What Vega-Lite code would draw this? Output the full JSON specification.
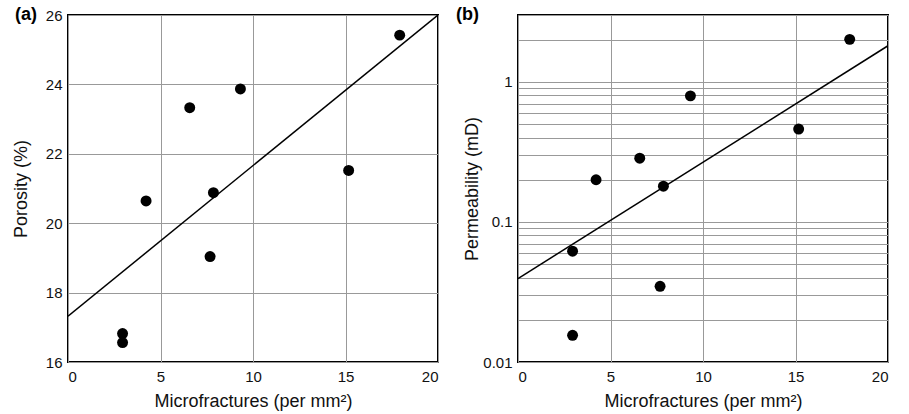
{
  "$schema": "https://vega.github.io/schema/vega-lite/v6.json",
  "padding": {"left": 11, "top": 5, "right": 5, "bottom": 5},
  "background": "white",
  "bounds": "flush",
  "spacing": 80,
  "config": {
    "font": "Liberation Sans",
    "view": {"stroke": "black", "strokeWidth": 2},
    "axis": {
      "labelFont": "Liberation Sans",
      "titleFont": "Liberation Sans",
      "labelFontSize": 15,
      "titleFontSize": 18,
      "titleFontWeight": "normal",
      "labelColor": "#111",
      "titleColor": "#111",
      "ticks": false,
      "domain": false,
      "gridColor": "#999",
      "gridOpacity": 1,
      "gridWidth": 1
    },
    "title": {
      "font": "Liberation Sans",
      "fontSize": 18,
      "fontWeight": "bold",
      "color": "black",
      "anchor": "start",
      "frame": "group",
      "baseline": "alphabetic"
    }
  },
  "datasets": {
    "pts": [
      {"mf": 2.95, "por": 16.82, "perm": 0.0618},
      {"mf": 2.95, "por": 16.56, "perm": 0.0155},
      {"mf": 4.22, "por": 20.64, "perm": 0.2},
      {"mf": 6.58, "por": 23.33, "perm": 0.285},
      {"mf": 9.32, "por": 23.87, "perm": 0.794},
      {"mf": 7.68, "por": 19.04, "perm": 0.0347},
      {"mf": 7.86, "por": 20.88, "perm": 0.18},
      {"mf": 15.17, "por": 21.52, "perm": 0.46},
      {"mf": 17.93, "por": 25.42, "perm": 2.01}
    ],
    "fit": [
      {"mf": 0, "por": 17.32, "perm": 0.0394},
      {"mf": 20, "por": 26.0, "perm": 1.81}
    ]
  },
  "hconcat": [
    {
      "width": 370,
      "height": 347,
      "title": {"text": "(a)", "dx": -53, "offset": -16},
      "layer": [
        {
          "data": {"name": "fit"},
          "mark": {"type": "line", "color": "black", "strokeWidth": 1.5, "clip": true},
          "encoding": {
            "x": {"field": "mf", "type": "quantitative", "scale": {"domain": [0, 20], "nice": false},
                  "axis": {"values": [0, 5, 10, 15, 20], "title": "Microfractures (per mm²)", "labelPadding": 7, "titlePadding": 8}},
            "y": {"field": "por", "type": "quantitative", "scale": {"domain": [16, 26], "zero": false, "nice": false},
                  "axis": {"values": [16, 18, 20, 22, 24, 26], "title": "Porosity (%)", "labelPadding": 6, "titlePadding": 15}}
          }
        },
        {
          "data": {"name": "pts"},
          "mark": {"type": "circle", "color": "black", "opacity": 1, "size": 120},
          "encoding": {
            "x": {"field": "mf", "type": "quantitative"},
            "y": {"field": "por", "type": "quantitative"}
          }
        }
      ]
    },
    {
      "width": 370,
      "height": 347,
      "title": {"text": "(b)", "dx": -62, "offset": -16},
      "layer": [
        {
          "data": {"name": "fit"},
          "mark": {"type": "line", "color": "black", "strokeWidth": 1.5, "clip": true},
          "encoding": {
            "x": {"field": "mf", "type": "quantitative", "scale": {"domain": [0, 20], "nice": false},
                  "axis": {"values": [0, 5, 10, 15, 20], "title": "Microfractures (per mm²)", "labelPadding": 7, "titlePadding": 8}},
            "y": {"field": "perm", "type": "quantitative", "scale": {"type": "log", "domain": [0.01, 3], "nice": false},
                  "axis": {"values": [0.01, 0.02, 0.03, 0.04, 0.05, 0.06, 0.07, 0.08, 0.09, 0.1, 0.2, 0.3, 0.4, 0.5, 0.6, 0.7, 0.8, 0.9, 1, 2, 3],
                           "labelExpr": "datum.value == 1 ? '1' : datum.value == 0.1 ? '0.1' : datum.value == 0.01 ? '0.01' : ''",
                           "labelOverlap": false,
                           "title": "Permeability (mD)", "labelPadding": 6, "titlePadding": 1}}
          }
        },
        {
          "data": {"name": "pts"},
          "mark": {"type": "circle", "color": "black", "opacity": 1, "size": 120},
          "encoding": {
            "x": {"field": "mf", "type": "quantitative"},
            "y": {"field": "perm", "type": "quantitative"}
          }
        }
      ]
    }
  ]
}
